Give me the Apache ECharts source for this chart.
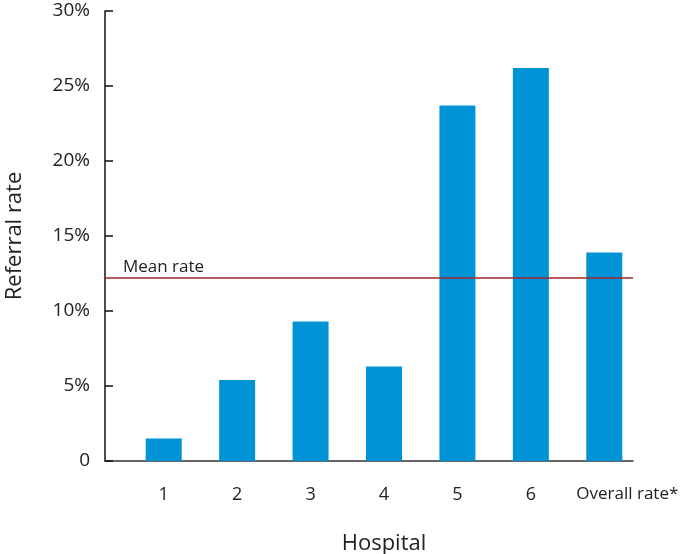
<!DOCTYPE html>
<html>
<head>
<meta charset="utf-8">
<script src="https://cdn.jsdelivr.net/npm/echarts@6/dist/echarts.min.js"></script>
<style>html,body{margin:0;padding:0;background:#fff}#c{width:680px;height:554px}</style>
</head>
<body>
<div id="c"></div>
<script>
const categories = ['1', '2', '3', '4', '5', '6', 'Overall rate*'];
const referralRate = [1.5, 5.4, 9.3, 6.3, 23.7, 26.2, 13.9];
const meanRate = 12.25;
const yTicks = [0, 5, 10, 15, 20, 25, 30];

const FONT = '"Open Sans", "Noto Sans", sans-serif';
const TXT = '#222';
const lastCat = categories[categories.length - 1];
const chart = echarts.init(document.getElementById('c'), null, {renderer: 'canvas'});
chart.setOption({
  backgroundColor: '#fff',
  animation: false,
  grid: [
    {left: 127, right: 39, top: 11, bottom: 93, outerBoundsMode: 'none', containLabel: false},
    {left: 105, right: 47, top: 11, bottom: 93, outerBoundsMode: 'none', containLabel: false}
  ],
  xAxis: [
    {
      type: 'category', gridIndex: 0, data: categories,
      axisLine: {show: false}, axisTick: {show: false},
      axisLabel: {
        interval: 0, fontFamily: FONT, fontSize: 18, color: TXT, margin: 25,
        formatter: v => v === lastCat ? '{o|' + v + '}' : v,
        rich: {o: {fontFamily: FONT, fontSize: 17, color: TXT, padding: [0, 0, 0, 46]}}
      },
      name: 'Hospital', nameLocation: 'middle', nameGap: 72,
      nameTextStyle: {fontFamily: FONT, fontSize: 22, color: TXT}
    },
    {
      type: 'value', gridIndex: 1, min: 0, max: 1,
      axisLine: {show: true, lineStyle: {color: '#333', width: 1.5}},
      axisTick: {show: false}, axisLabel: {show: false}, splitLine: {show: false}
    }
  ],
  yAxis: [
    {type: 'value', gridIndex: 0, min: yTicks[0], max: yTicks[yTicks.length - 1], show: false},
    {
      type: 'value', gridIndex: 1, min: yTicks[0], max: yTicks[yTicks.length - 1],
      interval: yTicks[1] - yTicks[0],
      axisLine: {show: true, lineStyle: {color: '#111', width: 1.5}},
      axisTick: {show: true, inside: true, length: 8, lineStyle: {color: '#111', width: 1.5}},
      splitLine: {show: false},
      axisLabel: {fontFamily: FONT, fontSize: 19, color: TXT, margin: 15,
        formatter: v => v === 0 ? '0' : v + '%'},
      name: 'Referral rate', nameLocation: 'middle', nameGap: 79,
      nameTextStyle: {fontFamily: FONT, fontSize: 22, color: TXT}
    }
  ],
  series: [
    {
      type: 'bar', xAxisIndex: 0, yAxisIndex: 0, data: referralRate,
      barWidth: 36, itemStyle: {color: '#0093D6'}, silent: true
    },
    {
      type: 'line', xAxisIndex: 1, yAxisIndex: 1, data: [],
      silent: true,
      markLine: {
        symbol: 'none', silent: true,
        lineStyle: {color: '#A3262C', width: 1.5, type: 'solid'},
        label: {show: true, position: 'insideStartTop', formatter: 'Mean rate',
          fontFamily: FONT, fontSize: 17, color: TXT, distance: [18, 2]},
        data: [{yAxis: meanRate}]
      }
    }
  ]
});
</script>
</body>
</html>
